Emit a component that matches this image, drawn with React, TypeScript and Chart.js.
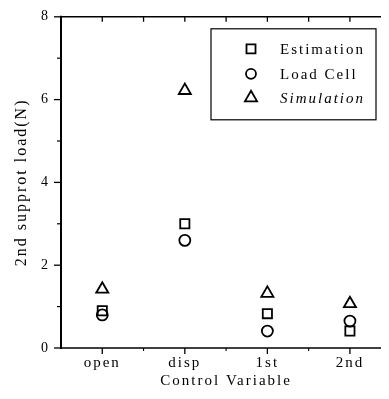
import React, { useEffect, useRef } from 'react';
import { Chart, registerables } from 'chart.js';

Chart.register(...registerables);

const categories = ['open', 'disp', '1st', '2nd'];
const estimation = [0.9, 3.0, 0.83, 0.41];
const loadCell = [0.8, 2.6, 0.41, 0.65];
const simulation = [1.42, 6.22, 1.32, 1.07];
const yMajorTicks = [0, 2, 4, 6, 8];
const yMinorTicks = [1, 3, 5, 7];
const seriesNames = ['Estimation', 'Load Cell', 'Simulation'];

const FONT = '"Liberation Serif", "Times New Roman", serif';

const spacingPlugin = {
  id: 'spacing',
  beforeDraw(chart: any) {
    chart.ctx.letterSpacing = '2px';
  },
  afterDraw(chart: any) {
    chart.ctx.letterSpacing = '0px';
  },
};

const framePlugin = {
  id: 'frame',
  afterDatasetsDraw(chart: any) {
    const { ctx, chartArea: a, scales } = chart;
    const xs = scales.x;
    const ys = scales.y;
    ctx.save();
    ctx.strokeStyle = '#000';
    ctx.lineCap = 'butt';
    const line = (x1: number, y1: number, x2: number, y2: number, w: number) => {
      ctx.lineWidth = w;
      ctx.beginPath();
      ctx.moveTo(x1, y1);
      ctx.lineTo(x2, y2);
      ctx.stroke();
    };
    // spines
    line(a.left, a.top - 1, a.left, a.bottom + 1, 2);
    line(a.left - 1, a.bottom, a.right, a.bottom, 1.5);
    line(a.left - 1, a.top, a.right, a.top, 1.5);
    line(a.right, a.top, a.right, a.bottom, 1.5);
    // y ticks
    yMajorTicks.forEach((v) => {
      const py = ys.getPixelForValue(v);
      line(a.left - 7, py, a.left, py, 1.3);
      line(a.right, py, a.right - 6, py, 1.3);
    });
    yMinorTicks.forEach((v) => {
      const py = ys.getPixelForValue(v);
      line(a.left - 4, py, a.left, py, 1.2);
    });
    // x ticks
    categories.forEach((_, i) => {
      const px = xs.getPixelForValue(i);
      line(px, a.bottom, px, a.bottom + 6, 1.3);
      line(px, a.top, px, a.top + 5, 1.3);
      if (i < categories.length - 1) {
        const hx = xs.getPixelForValue(i + 0.5);
        line(hx, a.bottom, hx, a.bottom + 3, 1.1);
        line(hx, a.top, hx, a.top + 5, 1.3);
      }
    });
    ctx.restore();
  },
};

const legendPlugin = {
  id: 'boxLegend',
  afterDraw(chart: any) {
    const { ctx, chartArea: a } = chart;
    const left = a.left + 150;
    const right = a.left + 315;
    const top = a.top + 12;
    const bottom = a.top + 103;
    const rowY = [a.top + 32, a.top + 57, a.top + 81];
    const markX = a.left + 190;
    const textX = a.left + 219;
    ctx.save();
    ctx.strokeStyle = '#000';
    ctx.lineWidth = 1.2;
    ctx.strokeRect(left, top, right - left, bottom - top);
    ctx.lineWidth = 1.8;
    rowY.forEach((y, i) => {
      ctx.beginPath();
      if (i === 0) {
        ctx.rect(markX - 4.5, y - 4.5, 9, 9);
      } else if (i === 1) {
        ctx.arc(markX, y, 5, 0, Math.PI * 2);
      } else {
        const r = 7;
        ctx.moveTo(markX, y - r);
        ctx.lineTo(markX + r * Math.sin((2 * Math.PI) / 3), y - r * Math.cos((2 * Math.PI) / 3));
        ctx.lineTo(markX + r * Math.sin((4 * Math.PI) / 3), y - r * Math.cos((4 * Math.PI) / 3));
        ctx.closePath();
      }
      ctx.stroke();
      ctx.fillStyle = '#000';
      ctx.letterSpacing = '2px';
      ctx.textBaseline = 'middle';
      ctx.textAlign = 'left';
      ctx.font = (i === 2 ? 'italic ' : '') + '15px ' + FONT;
      ctx.fillText(seriesNames[i], textX, y + 1);
    });
    ctx.restore();
  },
};

export default function App() {
  const ref = useRef<HTMLCanvasElement>(null);
  useEffect(() => {
    if (!ref.current) return;
    const common = {
      borderColor: '#000',
      backgroundColor: 'rgba(0,0,0,0)',
      pointBorderColor: '#000',
      pointBackgroundColor: 'rgba(0,0,0,0)',
      pointBorderWidth: 1.8,
      showLine: false,
    };
    const chart = new Chart(ref.current, {
      type: 'line',
      data: {
        labels: categories,
        datasets: [
          { ...common, label: seriesNames[0], data: estimation, pointStyle: 'rect', pointRadius: 6.5, pointHoverRadius: 6.5 },
          { ...common, label: seriesNames[1], data: loadCell, pointStyle: 'circle', pointRadius: 5.5, pointHoverRadius: 5.5 },
          { ...common, label: seriesNames[2], data: simulation, pointStyle: 'triangle', pointRadius: 7, pointHoverRadius: 7 },
        ],
      },
      options: {
        animation: false,
        responsive: false,
        devicePixelRatio: 1,
        layout: { padding: { top: 6, right: 6, bottom: 8, left: 0 } },
        plugins: { legend: { display: false }, tooltip: { enabled: false } },
        scales: {
          x: {
            type: 'category',
            offset: true,
            grid: { display: false, drawTicks: false },
            border: { display: false },
            ticks: { font: { family: FONT, size: 15 }, color: '#000', padding: 6, maxRotation: 0 },
            title: {
              display: true,
              text: 'Control Variable',
              font: { family: FONT, size: 15 },
              color: '#000',
              padding: { top: 0, bottom: 1 },
            },
            afterFit(s: any) {
              s.height = 43;
              s.paddingLeft = 0;
              s.paddingRight = 0;
            },
          },
          y: {
            min: 0,
            max: 8,
            grid: { display: false, drawTicks: false },
            border: { display: false },
            ticks: { stepSize: 2, font: { family: FONT, size: 14 }, color: '#000', padding: 11 },
            title: {
              display: true,
              text: '2nd supprot load(N)',
              font: { family: FONT, size: 16 },
              color: '#000',
              padding: { top: 4, bottom: 0 },
            },
            afterFit(s: any) {
              s.width = 53;
              s.paddingTop = 0;
              s.paddingBottom = 0;
            },
          },
        },
      } as any,
      plugins: [spacingPlugin, framePlugin, legendPlugin],
    });
    return () => chart.destroy();
  }, []);
  return (
    <div style={{ width: 381, height: 391, overflow: 'hidden' }}>
      <canvas ref={ref} width={392} height={391} style={{ display: 'block', width: 392, height: 391 }} />
    </div>
  );
}
